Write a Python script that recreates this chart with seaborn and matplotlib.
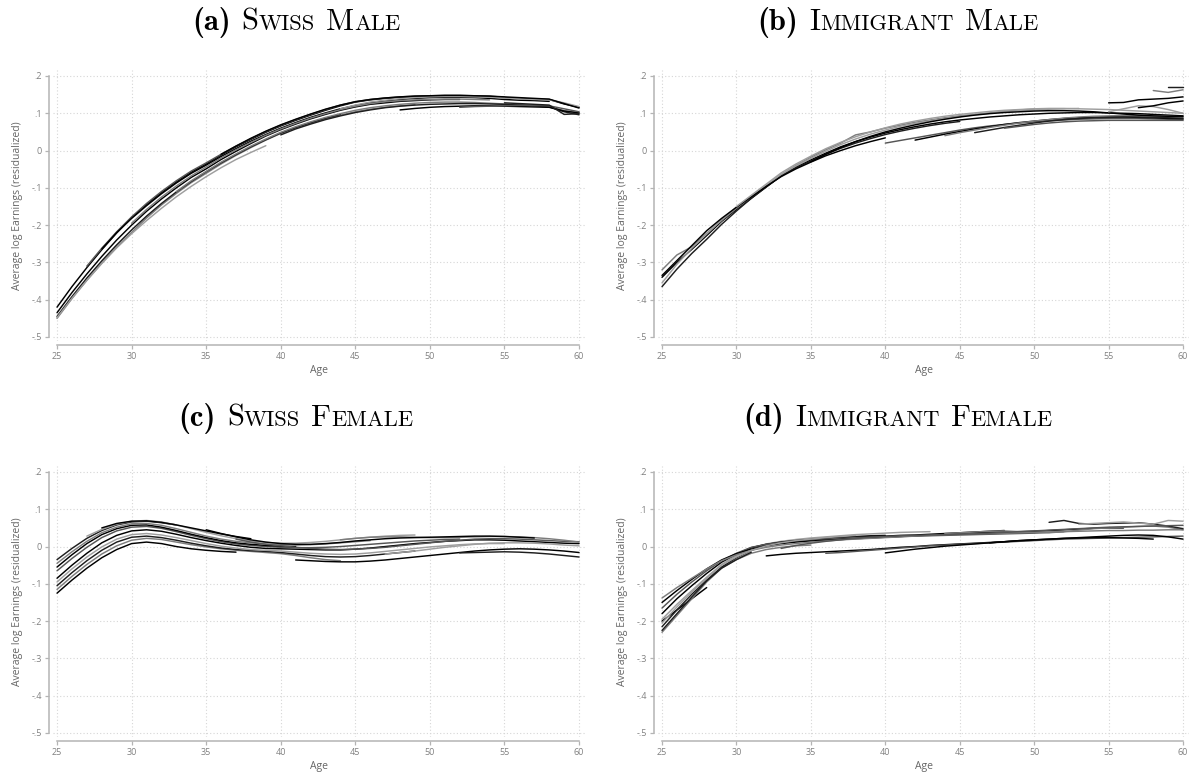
import matplotlib
matplotlib.use("Agg")
import matplotlib.pyplot as plt
import numpy as np
import pandas as pd
import seaborn as sns

# ---------------------------------------------------------------------------
# Cohort earnings profiles: (first age observed, average log earnings per year)
# ---------------------------------------------------------------------------
swiss_male = [
    (25, [-.420, -.365, -.314, -.266, -.221, -.180, -.145, -.113, -.084, -.058, -.036, -.012,
          .010, .030, .049, .066, .081, .095, .108, .120, .130, .136, .140, .143, .145, .146,
          .147, .147, .146, .145, .142, .140, .138, .137, .125, .116]),
    (25, [-.450, -.397, -.348, -.302, -.259, -.220, -.181, -.146, -.115, -.086, -.061, -.036,
          -.013, .008, .028, .046, .061, .074, .085, .095, .104, .111, .116, .120, .123]),
    (25, [-.445, -.392, -.342, -.296, -.253, -.213, -.176, -.142, -.111, -.083, -.057, -.033,
          -.011, .010, .029, .047, .062, .075, .087, .097]),
    (25, [-.448, -.396, -.348, -.303, -.261, -.223, -.188, -.155, -.124, -.096, -.070, -.046,
          -.024, -.005, .013]),
    (25, [-.435, -.381, -.331, -.284, -.240, -.200, -.163, -.130, -.100, -.072, -.049, -.024,
          -.002, .019, .039, .056, .071, .085, .097, .108, .117, .124, .128, .132, .134, .136,
          .137, .137]),
    (27, [-.310, -.262, -.218, -.178, -.142, -.110, -.081, -.055, -.033, -.010, .012, .032,
          .051, .068, .083, .097, .110, .122, .131, .137, .141, .144, .146, .147, .148, .148,
          .147, .146, .143]),
    (28, [-.264, -.220, -.182, -.148, -.116, -.087, -.061, -.039, -.016, .005, .025, .043,
          .060, .075, .089, .101, .112, .121, .128, .133, .137, .140, .142, .143, .143, .142,
          .140, .137, .135, .134, .132]),
    (33, [-.110, -.081, -.056, -.031, -.009, .012, .031, .049, .064, .077, .089, .099, .108,
          .115, .120, .124, .127, .129, .130, .130, .129, .127, .125, .123, .121, .118, .107,
          .102]),
    (40, [.042, .058, .071, .083, .093, .102, .109, .115, .119, .122, .124, .125, .126, .126,
          .125, .124, .122, .120, .117, .104, .096]),
    (44, [.112, .122, .130, .135, .139, .142, .144, .145, .145, .144, .143, .141, .139, .137,
          .136, .128, .118]),
    (48, [.109, .113, .116, .118, .119, .120, .120, .119, .118, .117, .116, .106, .101]),
    (52, [.116, .118, .119, .120, .121, .121, .120, .112, .104]),
    (36, [-.010, .012, .033, .052, .069, .084, .098, .111, .122, .131, .137, .141, .144, .146,
          .147, .148, .148, .147, .146, .144, .142, .140, .138, .126, .114]),
    (30, [-.195, -.158, -.125, -.095, -.068, -.044, -.020, .002, .022, .041, .058, .073, .087,
          .099, .110, .119, .126, .131, .134, .136, .137, .138, .138, .137, .136]),
    (55, [.128, .126, .124, .122, .097, .099]),
]

immigrant_male = [
    (25, [-.340, -.300, -.265, -.228, -.190, -.158, -.128, -.098, -.068, -.045, -.025, -.007,
          .010, .024, .036, .047, .056, .064, .071, .077, .082, .086, .090, .093, .096, .098,
          .100, .101, .102, .102, .101, .100, .099, .097, .095, .093]),
    (25, [-.320, -.280, -.258, -.222, -.188, -.155, -.125, -.095, -.065, -.040, -.018, .002,
          .020, .042, .050, .060, .068, .076, .082, .088, .093, .097, .101, .105, .109, .111]),
    (25, [-.365, -.318, -.276, -.238, -.198, -.162, -.128, -.097, -.068, -.046, -.028, -.010,
          .006, .020, .032, .043, .052, .060, .067, .073, .078]),
    (25, [-.355, -.305, -.262, -.224, -.185, -.152, -.122, -.093, -.064, -.041, -.021, -.002,
          .016, .031, .044, .055, .065, .073, .080, .086, .091, .096, .100, .104, .107, .109,
          .111, .112, .113]),
    (25, [-.335, -.295, -.255, -.215, -.182, -.152, -.124, -.096, -.070, -.049, -.031, -.014,
          .000, .013, .024, .034]),
    (40, [.020, .027, .034, .041, .048, .055, .061, .066, .070, .074, .077, .080, .082, .084,
          .085, .086, .086, .086, .085, .084, .083]),
    (42, [.028, .036, .044, .051, .058, .064, .070, .075, .079, .083, .086, .088, .089, .090,
          .090, .089, .088, .086, .085]),
    (44, [.040, .048, .055, .062, .068, .074, .079, .083, .087, .090, .092, .093, .094, .094,
          .093, .092, .090]),
    (46, [.048, .055, .062, .068, .074, .079, .083, .086, .088, .089, .090, .090, .089, .088,
          .087]),
    (30, [-.150, -.120, -.090, -.060, -.036, -.015, .005, .022, .037, .050, .061, .071, .079,
          .086, .092, .097, .101, .105, .108, .110, .112, .113, .113, .112, .111, .110, .108,
          .106, .104, .102, .100]),
    (35, [-.030, -.010, .008, .024, .038, .050, .060, .069, .077, .084, .090, .095, .099, .102,
          .104, .106, .107, .107, .106, .104, .101, .098, .095, .093, .092, .092]),
    (48, [.060, .065, .070, .074, .077, .079, .080, .081, .081, .081, .081, .081, .081]),
    (55, [.128, .129, .136, .138, .140, .144]),
    (58, [.161, .156, .163]),
    (59, [.171, .171]),
    (55, [.104, .112, .120, .118, .110, .100]),
    (57, [.115, .120, .128, .133]),
]

swiss_female = [
    (25, [-.125, -.090, -.058, -.030, -.008, .008, .012, .008, .000, -.006, -.010, -.013, -.015]),
    (25, [-.115, -.080, -.048, -.020, .002, .017, .022, .019, .012, .005, -.001, -.006, -.010,
          -.013, -.016, -.019, -.024, -.030, -.035, -.038]),
    (25, [-.105, -.070, -.038, -.010, .012, .025, .028, .024, .017, .009, .002, -.004, -.008,
          -.011, -.013, -.016, -.020, -.024, -.027, -.028, -.027, -.024, -.020, -.016, -.012]),
    (25, [-.095, -.060, -.028, -.001, .020, .032, .035, .031, .024, .016, .008, .001, -.004,
          -.008, -.010, -.012, -.015, -.018, -.020, -.021, -.020, -.017, -.013, -.009, -.005,
          -.001, .002, .005, .007, .008, .008]),
    (25, [-.085, -.050, -.018, .010, .030, .042, .045, .041, .033, .024, .016, .009, .003,
          -.002, -.005, -.006, -.007, -.008, -.009, -.009, -.007, -.004, .000, .004, .008,
          .011, .014, .016, .018, .018, .017, .015, .013, .011, .009, .008]),
    (25, [-.065, -.032, -.002, .024, .042, .052, .054, .049, .040, .030, .021, .013, .007,
          .003, .000, -.002, -.003, -.003, -.002, .000, .003, .006, .009, .012, .015, .017,
          .019, .020]),
    (25, [-.055, -.022, .008, .032, .048, .057, .058, .052, .043, .033, .024, .016, .010, .006,
          .003, .001, .000]),
    (25, [-.045, -.014, .014, .037, .052, .061, .062, .057, .048, .038, .028, .020, .014, .010,
          .007, .005, .004, .005, .007, .010, .013, .016]),
    (25, [-.035, -.005, .022, .043, .058, .066, .068, .064, .058]),
    (27, [.028, .046, .060, .068, .070, .066, .058, .048, .038, .029, .021, .015, .011, .009,
          .009, .011, .014, .018, .022, .025, .028, .030, .031]),
    (28, [.050, .062, .068, .069, .065, .058, .050, .042, .034, .027, .021]),
    (37, [.020, .012, .006, .002, -.002, -.005, -.007, -.008, -.007, -.005, -.002, .002, .006,
          .010, .014, .017, .020, .021, .021, .020, .018, .016, .014, .013]),
    (41, [-.036, -.038, -.040, -.041, -.041, -.039, -.036, -.032, -.028, -.024, -.020, -.016,
          -.012, -.009, -.007, -.006, -.007, -.009, -.012, -.016]),
    (44, [.018, .022, .025, .026, .026, .025, .024, .024, .025, .026, .027, .027, .026, .024,
          .021, .017, .012]),
    (52, [-.017, -.016, -.015, -.014, -.015, -.017, -.020, -.024, -.028]),
    (47, [-.020, -.016, -.012, -.007, -.002, .002, .006, .009, .010, .010, .009, .007, .004,
          .002]),
    (35, [.045, .035, .026, .018, .012, .008, .006, .006, .008, .011, .015, .018, .021, .023,
          .024, .025, .026, .027, .028, .028, .027, .025, .023]),
]

immigrant_female = [
    (25, [-.200, -.170, -.140, -.110]),
    (25, [-.230, -.185, -.140, -.095, -.058, -.035, -.018, -.008, -.002, .002, .004]),
    (25, [-.215, -.170, -.128, -.090, -.055, -.030, -.010, .003, .010, .015, .019, .022, .025,
          .027, .029, .030]),
    (25, [-.195, -.155, -.118, -.082, -.048, -.024, -.004, .007, .014, .019, .023, .026, .029,
          .032, .034, .036, .038, .039, .040]),
    (25, [-.180, -.140, -.105, -.072, -.042, -.020, -.003, .006, .012, .016, .019, .021, .023,
          .025, .027, .028, .030, .031, .033, .035, .037, .039, .041, .043]),
    (25, [-.165, -.128, -.095, -.065, -.038, -.018, -.002, .006, .011, .015, .018, .020, .022,
          .024, .025, .026, .027, .028, .029, .030, .031, .032, .033, .034, .035, .036, .038,
          .040]),
    (25, [-.150, -.118, -.088, -.060, -.036, -.019, -.007, .002, .008, .012, .015, .017, .019,
          .021, .023, .025, .027, .029, .031, .033, .035, .037, .038, .039, .040, .041, .043,
          .045, .047, .049, .050, .050]),
    (25, [-.138, -.110, -.085, -.060, -.038, -.022, -.010, -.002, .004, .008, .012, .015, .018,
          .020, .022, .024, .026, .028, .030, .032, .033, .034, .035, .036, .037, .038, .039,
          .040, .041, .042, .043, .043, .044, .044, .045, .045]),
    (25, [-.225, -.180, -.135, -.092, -.058, -.035, -.015]),
    (25, [-.205, -.162, -.122, -.085, -.050, -.028, -.010, .002, .010, .016, .020, .024, .027,
          .030]),
    (32, [-.025, -.021, -.018, -.016, -.014, -.012, -.010, -.008, -.005, -.002, .000, .003,
          .005, .007, .009, .011, .013, .015, .017]),
    (36, [-.018, -.016, -.013, -.010, -.007, -.004, -.001, .002, .004, .006, .008, .010, .012,
          .014, .016, .018, .020, .021, .022, .023, .024, .025, .026, .027, .028]),
    (40, [-.017, -.012, -.007, -.003, .001, .004, .007, .010, .013, .016, .018, .020, .022,
          .024, .026, .028, .030, .031, .030, .026, .020]),
    (44, [.035, .037, .039, .041, .042, .040, .038, .037, .040, .044, .048, .050, .052, .054,
          .055, .052, .045]),
    (51, [.065, .070, .062, .060, .062, .063, .064, .060, .055, .048]),
    (53, [.060, .062, .064, .066, .063, .060, .070, .068]),
    (47, [.010, .013, .016, .018, .020, .022, .023, .024, .024, .023, .022, .020]),
    (33, [-.005, .003, .009, .014, .018, .022, .025, .027, .029, .030, .031, .032, .033, .034,
          .036, .038, .040, .042, .044, .046, .048, .050, .052, .053, .054, .055, .056, .057]),
]

panel_letters = ["(a)", "(b)", "(c)", "(d)"]
panel_words = [["Swiss", "Male"], ["Immigrant", "Male"],
               ["Swiss", "Female"], ["Immigrant", "Female"]]
panel_data = [swiss_male, immigrant_male, swiss_female, immigrant_female]

x_ticks = [25, 30, 35, 40, 45, 50, 55, 60]
y_ticks = [-.5, -.4, -.3, -.2, -.1, 0, .1, .2]
y_tick_labels = ["-.5", "-.4", "-.3", "-.2", "-.1", "0", ".1", ".2"]

# ---------------------------------------------------------------------------
W, H = 1192, 773
sns.set_theme(style="white")
plt.rcParams["font.family"] = ["Open Sans", "DejaVu Sans"]

fig = plt.figure(figsize=(W / 100, H / 100), dpi=100)

line_colors = ["#000000", "#7c7c7c", "#1e1e1e", "#9e9e9e", "#000000", "#555555"]
axis_grey = "#b4b4b4"

# axes rectangles in pixels: (left, top, width, height)
rects = [(53.3, 70.4, 531.7, 270.3), (658.3, 70.4, 530.7, 270.3),
         (53.3, 466.4, 531.7, 270.3), (658.3, 466.4, 530.7, 270.3)]

for k, (cohorts, rect) in enumerate(zip(panel_data, rects)):
    l, t, w, h = rect
    ax = fig.add_axes([l / W, 1 - (t + h) / H, w / W, h / H])

    rows = []
    for cid, (start, vals) in enumerate(cohorts):
        for i, v in enumerate(vals):
            rows.append((cid, start + i, v))
    df = pd.DataFrame(rows, columns=["cohort", "age", "value"])
    pal = [line_colors[i % len(line_colors)] for i in range(len(cohorts))]

    # dotted grid
    for xv in x_ticks:
        ax.axvline(xv, color="#d6d6d6", lw=0.8, ls=(0, (1, 2)), zorder=0)
    for yv in y_ticks:
        ax.axhline(yv, color="#d6d6d6", lw=0.8, ls=(0, (1, 2)), zorder=0)

    sns.lineplot(data=df, x="age", y="value", hue="cohort", palette=pal,
                 estimator=None, legend=False, lw=1.05, ax=ax, zorder=3)

    ax.set_xlim(24.75, 60.4)
    ax.set_ylim(-0.51, 0.215)
    ax.set_xticks(x_ticks)
    ax.set_xticklabels([str(v) for v in x_ticks])
    ax.set_yticks(y_ticks)
    ax.set_yticklabels(y_tick_labels)

    for side in ["top", "right"]:
        ax.spines[side].set_visible(False)
    ax.spines["left"].set_position(("outward", 3.1))
    ax.spines["bottom"].set_position(("outward", 3.1))
    ax.spines["left"].set_bounds(-0.5, 0.2)
    ax.spines["bottom"].set_bounds(25, 60)
    for side in ["left", "bottom"]:
        ax.spines[side].set_color(axis_grey)
        ax.spines[side].set_linewidth(1.1)

    ax.tick_params(axis="both", which="major", direction="out", length=3,
                   width=0.9, color=axis_grey, labelsize=6.5,
                   labelcolor="#808080", pad=2, left=True, bottom=True)
    ax.set_xlabel("Age", fontsize=7.5, color="#666666", labelpad=3)
    ax.set_ylabel("Average log Earnings (residualized)", fontsize=7.5,
                  color="#666666", labelpad=6)
    ax.set_facecolor("white")

# ---------------------------------------------------------------------------
# Titles: bold letter followed by small-caps words in Computer Modern
big, small = 22.0, 16.2
renderer = fig.canvas.get_renderer()


def small_caps_title(letter, words, xc, y_base):
    pieces = [(letter, "cmb10", big)]
    for word in words:
        pieces.append((None, None, None))
        pieces.append((word[0], "cmr10", big))
        pieces.append((word[1:].upper(), "cmr10", small))
    texts, widths = [], []
    gap = 0.36 * big * 100 / 72 / W
    for s, fam, size in pieces:
        if s is None:
            texts.append(None)
            widths.append(gap)
            continue
        t = fig.text(0, y_base, s, fontfamily=fam, fontsize=size,
                     ha="left", va="baseline", color="black")
        bb = t.get_window_extent(renderer)
        texts.append(t)
        widths.append(bb.width / W)
    x = xc - sum(widths) / 2
    for t, wd in zip(texts, widths):
        if t is not None:
            t.set_x(x)
        x += wd


centers = [296 / W, 898 / W, 296 / W, 898 / W]
baselines = [1 - 30 / H, 1 - 30 / H, 1 - 426 / H, 1 - 426 / H]
for k in range(4):
    small_caps_title(panel_letters[k], panel_words[k], centers[k], baselines[k])

fig.savefig("out.png", dpi=100, facecolor="white")
